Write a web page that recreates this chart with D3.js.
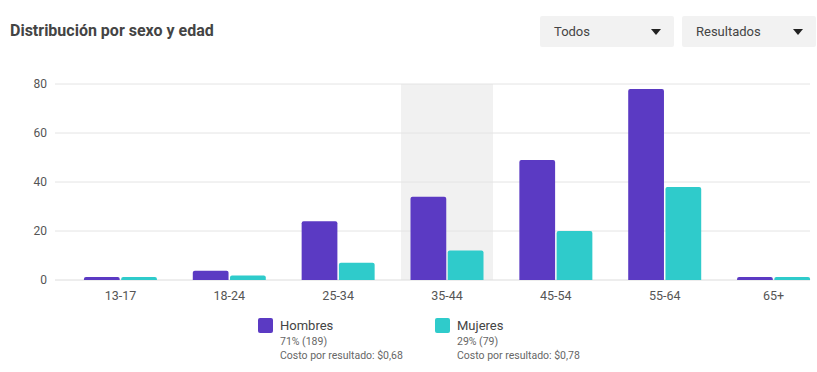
<!DOCTYPE html>
<html><head><meta charset="utf-8">
<script src="https://cdn.jsdelivr.net/npm/d3@7"></script>
<style>
html,body{margin:0;padding:0;background:#fff;}
svg{display:block;font-family:Roboto,"Noto Sans",sans-serif;}
</style></head>
<body><svg id="chart" width="817" height="372"></svg>
<script>
const categories = ["13-17","18-24","25-34","35-44","45-54","55-64","65+"];
const series = ["Hombres","Mujeres"];
const hombres = [1.2, 3.8, 24, 34, 49, 78, 1.2];
const mujeres = [1.2, 1.8, 7, 12, 20, 38, 1.2];
const yTicks = [0, 20, 40, 60, 80];
const highlighted = "35-44";
const legendShare = ["71% (189)", "29% (79)"];
const legendCost = ["Costo por resultado: $0,68", "Costo por resultado: $0,78"];
const dropdowns = ["Todos", "Resultados"];
const colors = ["#5b3ac3", "#2fcbcb"];

const svg = d3.select("#chart");

// Title
svg.append("text").attr("x", 10).attr("y", 36)
  .attr("font-size", 16).attr("font-weight", 700).attr("fill", "#444")
  .text("Distribución por sexo y edad");

// Dropdowns
const ddX = [540, 682];
dropdowns.forEach((d, i) => {
  const g = svg.append("g").attr("transform", `translate(${ddX[i]},16)`);
  g.append("rect").attr("width", 134).attr("height", 31).attr("rx", 2).attr("fill", "#f2f2f2");
  g.append("text").attr("x", 14).attr("y", 20).attr("font-size", 13).attr("fill", "#444").text(d);
  g.append("path").attr("d", "M111,13 L121,13 L116,19 Z").attr("fill", "#222");
});

// Scales
const y = d3.scaleLinear().domain([0, 80]).range([280, 84]);
const x = d3.scaleBand().domain(categories).range([66, 828]).paddingInner(0).paddingOuter(0);
const xs = d3.scaleBand().domain(series).range([0, 73]).paddingInner(0.04);
const cxOf = c => x(c) + x.bandwidth()/2;

// Highlight band
svg.append("rect")
  .attr("x", cxOf(highlighted) - 46).attr("y", 84)
  .attr("width", 92).attr("height", 196).attr("fill", "#f1f1f1");

// Gridlines and y labels
const gridL = 55, gridR = 810;
yTicks.forEach(t => {
  svg.append("line").attr("x1", gridL).attr("x2", gridR)
    .attr("y1", y(t)).attr("y2", y(t))
    .attr("stroke", t === 0 ? "#dcdcdc" : "#e4e4e4").attr("stroke-width", 1);
  svg.append("text").attr("x", 47).attr("y", y(t) + 4)
    .attr("text-anchor", "end").attr("font-size", 12).attr("fill", "#555").text(t);
});

// Bars
function topRounded(x0, y0, w, h, r) {
  r = Math.min(r, h, w/2);
  return `M${x0},${y0+h} L${x0},${y0+r} Q${x0},${y0} ${x0+r},${y0} L${x0+w-r},${y0} Q${x0+w},${y0} ${x0+w},${y0+r} L${x0+w},${y0+h} Z`;
}
const data = [hombres, mujeres];
categories.forEach((c, ci) => {
  const cx = cxOf(c) - 36.5;
  series.forEach((s, si) => {
    const v = data[si][ci];
    const bx = cx + xs(s);
    svg.append("path")
      .attr("d", topRounded(bx, y(v), xs.bandwidth(), y(0) - y(v), 2))
      .attr("fill", colors[si]);
  });
  svg.append("text").attr("x", cxOf(c)).attr("y", 300)
    .attr("text-anchor", "middle").attr("font-size", 12.5).attr("fill", "#555").text(c);
});

// Legend
const legX = [258, 435];
series.forEach((s, i) => {
  const g = svg.append("g").attr("transform", `translate(${legX[i]},318)`);
  g.append("rect").attr("width", 15).attr("height", 15).attr("rx", 2).attr("fill", colors[i]);
  g.append("text").attr("x", 22).attr("y", 12).attr("font-size", 13).attr("fill", "#444").text(s);
  g.append("text").attr("x", 22).attr("y", 27).attr("font-size", 10.5).attr("fill", "#666").text(legendShare[i]);
  g.append("text").attr("x", 22).attr("y", 41).attr("font-size", 10.5).attr("fill", "#666").text(legendCost[i]);
});
</script>
</body></html>
